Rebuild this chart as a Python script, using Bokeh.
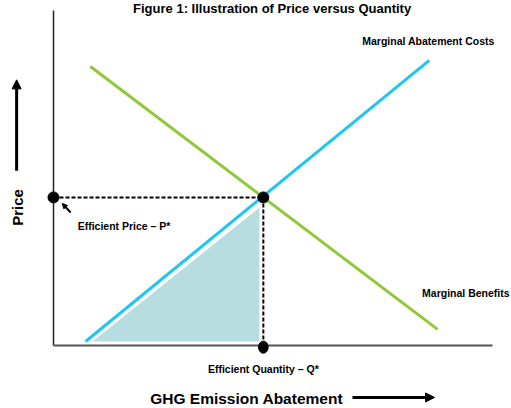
import math
from bokeh.plotting import figure
from bokeh.models import Arrow, NormalHead, ColumnDataSource
from bokeh.core.properties import value
from bokeh.embed import file_html
from bokeh.resources import INLINE

# ---- data (abstract price / quantity units) ----
mac_q = [0.73, 8.56]          # Marginal Abatement Costs
mac_p = [0.12, 8.51]
mb_q = [0.84, 8.75]           # Marginal Benefits
mb_p = [8.33, 0.48]
q_star = 4.78                 # efficient quantity
p_star = 4.42                 # efficient price
surplus_q = [0.89, 4.69, 4.69]
surplus_p = [0.12, 0.12, 4.12]
axis_max_q = 10.0
axis_max_p = 10.0

title = "Figure 1: Illustration of Price versus Quantity"
labels_small = ["Marginal Abatement Costs", "Marginal Benefits",
                "Efficient Price \u2013 P*", "Efficient Quantity \u2013 Q*"]
x_label = "GHG Emission Abatement"
y_label = "Price"

W, H = 511, 408
px_x = 43.9
px_y = 33.5
x0_canvas, y0_canvas = 53, 345
p = figure(width=W, height=H, output_backend="svg", toolbar_location=None,
           x_range=(-x0_canvas / px_x, (W - x0_canvas) / px_x),
           y_range=(-(H - y0_canvas) / px_y, y0_canvas / px_y),
           min_border=0, min_border_left=0, min_border_right=0,
           min_border_top=0, min_border_bottom=0)
p.axis.visible = False
p.grid.visible = False
p.outline_line_color = None
p.background_fill_color = "white"

# shaded surplus triangle
p.patch(surplus_q, surplus_p, fill_color="#b8dde1", line_color=None)

# axes
p.line([0, 0], [0, axis_max_p], line_color="#222222", line_width=1.5)
p.line([0, axis_max_q], [0, 0], line_color="#555555", line_width=2.2)

# curves
p.line(mac_q, mac_p, line_color="#1fc6f2", line_width=3)
p.line(mb_q, mb_p, line_color="#8fc93a", line_width=3)

# dashed guides
p.line([0, q_star], [p_star, p_star], line_color="black", line_width=2, line_dash="4 2")
p.line([q_star, q_star], [p_star, 0], line_color="black", line_width=2, line_dash="4 2")

# points
p.scatter([0, q_star], [p_star, p_star], size=11, color="black")
p.ellipse([q_star], [-0.05], width=0.22, height=0.36, color="black")

font = value("Liberation Sans")
src = ColumnDataSource(dict(
    x=[10.05, 10.39, 0.55, q_star],
    y=[9.1, 1.58, 3.58, -0.69],
    t=labels_small,
    a=["right", "right", "left", "center"],
))
p.text(x="x", y="y", text="t", source=src, text_align="a", text_baseline="middle",
       text_font=font, text_font_size="10.5px", text_font_style="bold",
       text_color="black")

# title
p.text([4.98], [10.27], text=[title], text_align="center", text_baseline="top",
       text_font=font, text_font_size="13px", text_font_style="bold",
       text_color="black")

# axis titles
p.text([4.40], [-1.58], text=[x_label], text_align="center", text_baseline="middle",
       text_font=font, text_font_size="15.5px",
       text_font_style="bold", text_color="black")
p.text([-0.82], [4.12], text=[y_label], angle=math.pi / 2, text_align="center",
       text_baseline="middle", text_font=font,
       text_font_size="15px", text_font_style="bold", text_color="black")

# arrows
p.add_layout(Arrow(end=NormalHead(size=9, fill_color="black", line_color="black"),
                   x_start=6.81, y_start=-1.55, x_end=8.68, y_end=-1.55,
                   line_width=3, line_color="black"))
p.add_layout(Arrow(end=NormalHead(size=9, fill_color="black", line_color="black"),
                   x_start=-0.84, y_start=5.22, x_end=-0.84, y_end=7.93,
                   line_width=3, line_color="black"))
p.add_layout(Arrow(end=NormalHead(size=5, fill_color="black", line_color="black"),
                   x_start=0.39, y_start=3.97, x_end=0.2, y_end=4.24,
                   line_width=2, line_color="black"))

open("out.html", "w").write(file_html(p, INLINE))
